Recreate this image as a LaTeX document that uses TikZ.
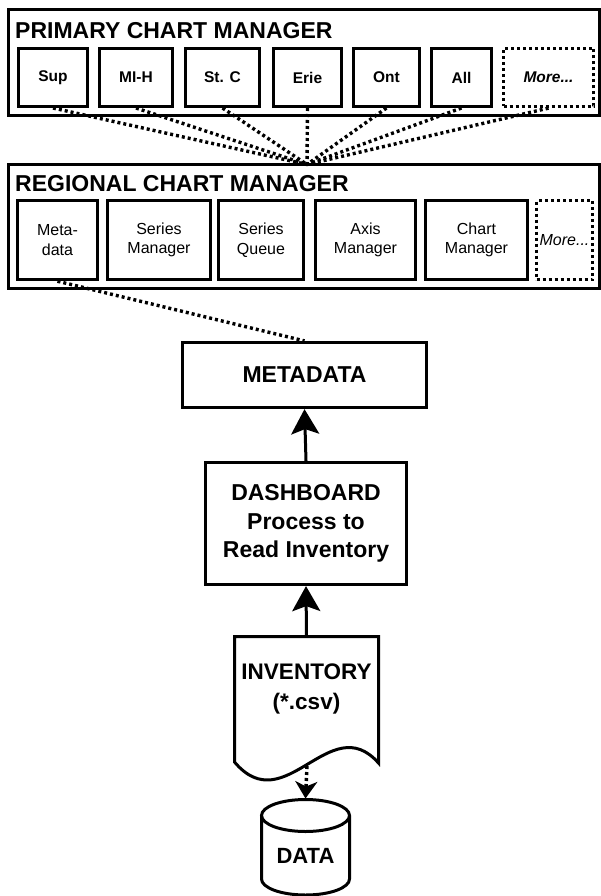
\documentclass[tikz,border=0pt]{standalone}
\usepackage{fontspec}
\setmainfont{Liberation Sans}
\usetikzlibrary{arrows.meta,positioning,calc}
\newcommand{\bigtxt}{\fontsize{23}{28.5}\selectfont\bfseries}
\tikzset{frame/.style={draw,line width=3.2pt,inner sep=0pt,align=center,font=\bigtxt},
  cell/.style={draw,line width=3.4pt,inner sep=0pt,align=center,font=\fontsize{15.5}{18}\selectfont\bfseries},
  regcell/.style={cell,font=\fontsize{16}{19.5}\selectfont},
  dotcell/.style={cell,line width=3.2pt,dash pattern=on 3pt off 3pt},
  ttl/.style={anchor=base west,inner sep=0pt,font=\bigtxt},
  dotline/.style={line width=3.4pt,dash pattern=on 3pt off 3pt},
  arr/.style={-{Stealth[length=25pt,width=28pt,inset=5pt]},line width=3pt},
  dotarr/.style={dotline,-{Stealth[length=17pt,width=22pt,inset=5pt]}}}

\begin{document}
\begin{tikzpicture}[x=1pt,y=-1pt,line join=miter]
\useasboundingbox (0,0) rectangle (601,896);
% primary chart manager
\node[frame,minimum width=591,minimum height=106] (primary) at (304,62.5) {};
\node[ttl] (ptitle) at (15,38.5) {PRIMARY CHART MANAGER};
\foreach \nm/\lbl/\xa/\xb in {sup/Sup/17/89,mih/MI-H/98/174,stc/St. C/184/261,erie/Erie/272/343,ont/Ont/352/421,all/All/430/493}
  \node[cell,minimum width=\xb-\xa-3.4,minimum height=57.6] (\nm) at ({(\xa+\xb)/2},77.5) {\lbl};
\node[dotcell,minimum width=90,minimum height=58,font=\fontsize{15.5}{18}\selectfont\bfseries\itshape] (pmore) at (548.5,77.5) {More...};
% regional chart manager
\node[frame,minimum width=591,minimum height=124] (regional) at (304,226.5) {};
\node[ttl] (rtitle) at (15,191.5) {REGIONAL CHART MANAGER};
\foreach \nm/\lbl/\xa/\xb in {rmeta/Meta-\\data/16/99,sman/Series\\Manager/106/212,sque/Series\\Queue/217/305,axman/Axis\\Manager/314/417,chman/Chart\\Manager/424/529}
  \node[regcell,minimum width=\xb-\xa-3.4,minimum height=79] (\nm) at ({(\xa+\xb)/2},240) {\lbl};
\node[dotcell,minimum width=56,minimum height=79,font=\fontsize{16}{19.5}\selectfont\itshape] (rmore) at (564.5,240) {More...};
\coordinate (hub) at (307,164.5);
\foreach \nm in {sup,mih,stc,erie,ont,all,pmore}
  \draw[dotline] (\nm.south) -- (hub);
% process chain
\node[frame,minimum width=244,minimum height=65] (metadata) at (304.5,375) {METADATA};
\draw[dotline] (rmeta.south) -- (metadata.north);
\node[frame,minimum width=201,minimum height=122] (dash) at (306,523.5) {DASHBOARD\\Process to\\Read Inventory};
\draw[arr] (dash.north) -- (metadata.south);
\node[font=\fontsize{22.5}{30}\selectfont\bfseries,align=center,inner sep=0pt] (inv) at (306.5,689) {INVENTORY\\(*.csv)};
\coordinate (invtop) at (306.5,636.5);
\coordinate (invbot) at (307,766);
\draw[line width=3pt] (234.5,762) -- (234.5,636.5) -- (378.5,636.5) -- (378.5,763)
  .. controls (330,708) and (285,822) .. (234.5,762) -- cycle;
\draw[arr] (invtop) -- (dash.south);
% data store
\node[font=\fontsize{22}{26}\selectfont\bfseries,inner sep=0pt] (data) at (305.5,856) {DATA};
\coordinate (datatop) at (305.5,798.5);
\draw[line width=3pt] (261.5,815.5) -- (261.5,879) arc[start angle=180,end angle=360,x radius=44pt,y radius=16pt] -- (349.5,815.5);
\draw[line width=3pt] (305.5,815.5) ellipse[x radius=44pt,y radius=16pt];
\draw[dotarr] (invbot) -- (datatop);
\end{tikzpicture}
\end{document}
